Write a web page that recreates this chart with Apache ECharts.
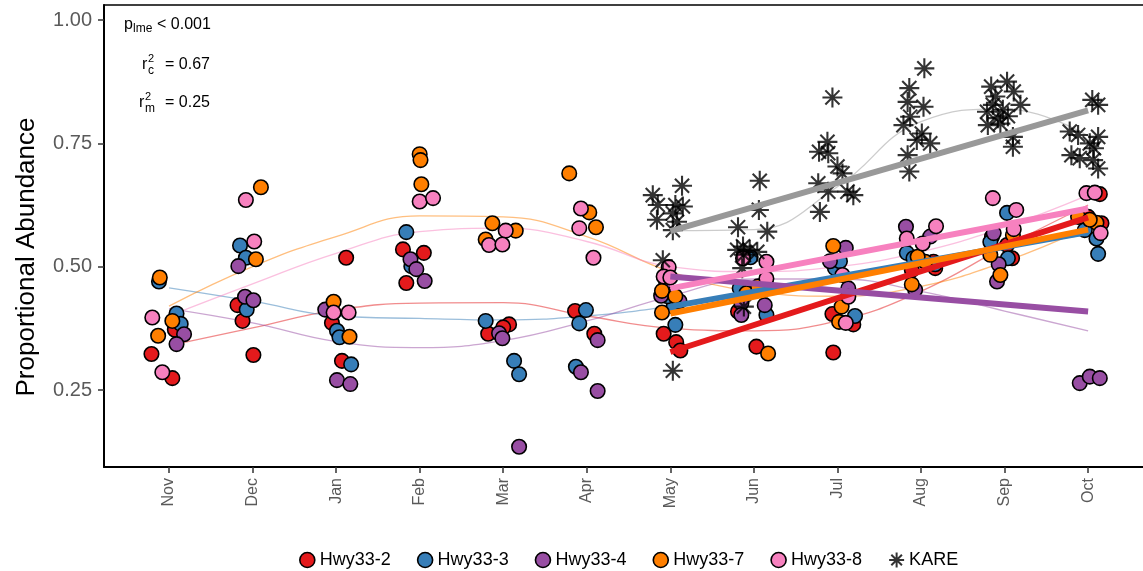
<!DOCTYPE html>
<html>
<head>
<meta charset="utf-8">
<script src="https://cdn.jsdelivr.net/npm/echarts@6/dist/echarts.min.js"></script>
<style>
html,body{margin:0;padding:0;background:#fff;}
#chart{width:1143px;height:571px;}
</style>
</head>
<body>
<div id="chart"></div>
<script>
// Month labels (x categories)
var months = ['Nov','Dec','Jan','Feb','Mar','Apr','May','Jun','Jul','Aug','Sep','Oct'];
var yTicks = [0.25, 0.50, 0.75, 1.00];

// Points: [x (month index incl. jitter), proportional abundance]
var hwy33_2 = [[0.07,0.372],[-0.21,0.323],[0.04,0.274],[0.82,0.422],[0.88,0.390],[1.01,0.321],
  [2.12,0.518],[1.95,0.386],[2.07,0.309],[2.80,0.535],[3.05,0.528],[2.84,0.467],
  [4.07,0.383],[4.00,0.377],[3.82,0.364],[4.86,0.410],[5.09,0.364],
  [5.92,0.364],[6.07,0.347],[6.12,0.330],[6.81,0.409],[7.03,0.338],
  [7.94,0.404],[8.19,0.383],[7.95,0.326],[9.17,0.497],[8.89,0.493],[9.15,0.510],
  [9.85,0.561],[10.03,0.544],[10.09,0.517],[11.14,0.647],[11.00,0.601],[11.16,0.588]];
var hwy33_3 = [[-0.12,0.470],[0.09,0.405],[0.14,0.384],[0.85,0.543],[0.92,0.518],[0.93,0.413],
  [2.01,0.370],[2.04,0.357],[2.18,0.302],[2.84,0.570],[2.90,0.501],
  [3.79,0.390],[4.13,0.309],[4.19,0.282],[4.99,0.412],[4.91,0.385],[4.87,0.297],
  [6.04,0.419],[6.06,0.382],[5.97,0.440],[6.96,0.519],[6.83,0.456],[7.15,0.402],
  [7.97,0.497],[8.03,0.511],[8.21,0.400],[8.83,0.528],[8.91,0.517],[9.17,0.505],
  [10.03,0.609],[10.04,0.517],[9.83,0.550],[10.96,0.574],[11.10,0.557],[11.12,0.526]];
var hwy33_4 = [[0.18,0.363],[0.09,0.343],[0.83,0.501],[0.91,0.439],[1.01,0.432],
  [1.87,0.413],[2.01,0.270],[2.17,0.262],[2.89,0.515],[2.96,0.495],[3.06,0.471],
  [3.95,0.365],[3.99,0.355],[4.19,0.135],[5.13,0.351],[4.93,0.286],[5.13,0.248],
  [5.89,0.441],[6.11,0.430],[5.95,0.470],[6.85,0.426],[7.13,0.422],[6.85,0.402],
  [8.10,0.538],[7.91,0.511],[8.13,0.456],[8.82,0.581],[9.11,0.561],[8.93,0.453],
  [9.87,0.568],[9.93,0.505],[9.91,0.470],[10.90,0.264],[11.02,0.277],[11.14,0.274]];
var hwy33_7 = [[-0.11,0.478],[0.04,0.390],[-0.13,0.360],[1.10,0.661],[1.04,0.515],
  [1.97,0.429],[2.16,0.358],[3.00,0.728],[3.01,0.716],[3.02,0.667],
  [3.87,0.588],[4.15,0.573],[3.79,0.555],[4.79,0.689],[5.03,0.610],[5.11,0.580],
  [5.90,0.451],[5.90,0.407],[6.06,0.440],[6.91,0.446],[7.17,0.324],[7.05,0.460],
  [7.95,0.542],[8.05,0.419],[8.02,0.388],[8.89,0.464],[9.05,0.510],[8.96,0.520],
  [10.10,0.564],[9.83,0.524],[9.95,0.483],[10.88,0.601],[11.10,0.589],[11.02,0.595]];
var hwy33_8 = [[-0.20,0.397],[-0.08,0.286],[0.92,0.635],[1.02,0.551],
  [1.97,0.407],[2.15,0.407],[3.00,0.632],[3.16,0.639],
  [4.03,0.573],[3.83,0.544],[3.99,0.545],[4.93,0.618],[4.91,0.578],[5.08,0.518],
  [5.98,0.499],[5.92,0.480],[6.00,0.478],[6.87,0.517],[7.15,0.510],[7.15,0.476],
  [8.06,0.483],[8.13,0.439],[8.10,0.386],[9.18,0.582],[8.83,0.557],[9.02,0.547],
  [9.86,0.639],[10.14,0.615],[10.11,0.576],[10.98,0.649],[11.08,0.650],[11.15,0.568]];
var kare = [[5.79,0.645],[6.14,0.664],[5.85,0.625],[6.03,0.608],[6.15,0.622],[5.84,0.595],[6.06,0.625],[6.08,0.591],[6.03,0.574],[5.91,0.513],[6.03,0.289],
  [7.07,0.674],[7.06,0.615],[6.81,0.580],[7.16,0.571],[6.87,0.541],[6.95,0.534],[6.80,0.534],[7.04,0.530],[6.88,0.524],[6.86,0.497],[6.88,0.419],
  [7.94,0.843],[7.88,0.753],[7.78,0.733],[7.89,0.730],[8.00,0.703],[8.06,0.689],[7.77,0.669],[7.89,0.652],[8.12,0.652],[8.19,0.645],[7.79,0.611],
  [9.04,0.902],[8.86,0.862],[8.84,0.834],[9.03,0.824],[8.87,0.804],[8.79,0.787],[9.01,0.770],[8.95,0.757],[9.11,0.750],[8.84,0.726],[8.86,0.693],
  [9.84,0.865],[10.03,0.875],[10.11,0.855],[10.19,0.828],[9.86,0.828],[9.98,0.818],[9.79,0.814],[9.92,0.801],[10.04,0.805],[9.80,0.787],[10.10,0.763],[10.10,0.743],[9.95,0.790],[9.89,0.845],
  [11.05,0.838],[11.12,0.828],[10.78,0.774],[10.88,0.767],[11.12,0.763],[11.02,0.750],[11.07,0.740],[10.80,0.726],[10.90,0.720],[11.06,0.716],[11.12,0.699]];

// Smoothed (loess) trend per month, Nov..Oct
var smooth2 = [0.340,0.376,0.412,0.426,0.427,0.400,0.375,0.370,0.390,0.450,0.540,0.625];
var smooth3 = [0.457,0.430,0.400,0.395,0.392,0.400,0.420,0.450,0.480,0.510,0.540,0.565];
var smooth4 = [0.415,0.386,0.348,0.336,0.350,0.390,0.440,0.475,0.475,0.450,0.410,0.370];
var smooth7 = [0.420,0.500,0.561,0.603,0.601,0.561,0.490,0.450,0.440,0.460,0.510,0.580];
var smooth8 = [0.400,0.465,0.527,0.571,0.578,0.551,0.500,0.490,0.500,0.530,0.580,0.645];
var smoothKARE = [0.573,0.575,0.662,0.794,0.820,0.765]; // May..Oct

// Linear fits May -> Oct: [value at May, value at Oct]
var fit2 = [0.327,0.600];
var fit3 = [0.419,0.570];
var fit4 = [0.480,0.409];
var fit7 = [0.405,0.575];
var fit8 = [0.456,0.618];
var fitKARE = [0.572,0.817];

var names = ['Hwy33-2','Hwy33-3','Hwy33-4','Hwy33-7','Hwy33-8','KARE'];
var colors = ['#E41A1C','#377EB8','#984EA3','#FF7F00','#F781BF'];
var pts = [hwy33_2,hwy33_3,hwy33_4,hwy33_7,hwy33_8];
var smooths = [smooth2,smooth3,smooth4,smooth7,smooth8];
var fits = [fit2,fit3,fit4,fit7,fit8];

var starPath = 'path://M10 0L10 20M0 10L20 10M2.93 2.93L17.07 17.07M17.07 2.93L2.93 17.07';
var FONT = 'Liberation Sans, Arial, sans-serif';

var series = [];
smooths.forEach(function(s,i){
  series.push({type:'line', name:'sm'+i, data:s.map(function(v,k){return [k,v];}),
    smooth:0.45, showSymbol:false, silent:true, z:1,
    lineStyle:{color:colors[i], width:1.3, opacity:0.5}});
});
series.push({type:'line', name:'smK', data:smoothKARE.map(function(v,k){return [k+6,v];}),
  smooth:0.45, showSymbol:false, silent:true, z:1,
  lineStyle:{color:'#aaaaaa', width:1.3, opacity:0.6}});
pts.forEach(function(p,i){
  series.push({type:'scatter', name:names[i], data:p, symbol:'circle', symbolSize:14.5, z:3,
    itemStyle:{color:colors[i], borderColor:'#000', borderWidth:1.6, opacity:1}});
});
series.push({type:'scatter', name:'KARE', data:kare, symbol:starPath, symbolSize:20, z:4,
  itemStyle:{color:'transparent', borderColor:'#000', borderWidth:2.1}});
series.push({type:'line', name:'fitK', data:[[6,fitKARE[0]],[11,fitKARE[1]]], showSymbol:false, silent:true, z:5,
  lineStyle:{color:'#999999', width:6}});
[0,1,2,3,4].forEach(function(i){
  series.push({type:'line', name:'fit'+i, data:[[6,fits[i][0]],[11,fits[i][1]]], showSymbol:false, silent:true, z:5,
    lineStyle:{color:colors[i], width:6}});
});

var legendData = names.map(function(n,i){
  if(i<5) return {name:n, icon:'circle', itemStyle:{color:colors[i], borderColor:'#000', borderWidth:1.6}};
  return {name:n, icon:starPath, itemStyle:{color:'transparent', borderColor:'#000', borderWidth:2}};
});

var chart = echarts.init(document.getElementById('chart'), null, {renderer:'canvas'});
chart.setOption({
  animation:false,
  backgroundColor:'#fff',
  grid:{left:104, right:0, top:5, bottom:104, containLabel:false},
  xAxis:[{
    type:'value', min:-0.778, max:11.657,
    axisLine:{show:true, onZero:false, lineStyle:{color:'#000', width:2}},
    axisTick:{show:true, customValues:[0,1,2,3,4,5,6,7,8,9,10,11], length:6, lineStyle:{color:'#333', width:1.5}},
    axisLabel:{show:true, customValues:[0,1,2,3,4,5,6,7,8,9,10,11], rotate:90, margin:11,
      color:'#5a5a5a', fontSize:16, fontFamily:FONT,
      formatter:function(v){return months[Math.round(v)];}},
    splitLine:{show:false}
  },{
    type:'value', position:'top', min:-0.778, max:11.657,
    axisLine:{show:true, onZero:false, lineStyle:{color:'#000', width:1.5}},
    axisTick:{show:false}, axisLabel:{show:false}, splitLine:{show:false}
  }],
  yAxis:{
    type:'value', min:0.0939, max:1.0304,
    axisLine:{show:true, onZero:false, lineStyle:{color:'#000', width:2}},
    axisTick:{show:true, customValues:yTicks, length:6, lineStyle:{color:'#333', width:1.5}},
    axisLabel:{show:true, customValues:yTicks, margin:12, color:'#5a5a5a', fontSize:20, fontFamily:FONT,
      formatter:function(v){return v.toFixed(2);}},
    splitLine:{show:false}
  },
  legend:{
    data:legendData, left:294, top:546, itemWidth:15, itemHeight:15, itemGap:26,
    textStyle:{fontSize:18, fontFamily:FONT, color:'#000'}
  },
  graphic:[
    {type:'text', rotation:Math.PI/2, position:[27,257],
      style:{text:'Proportional Abundance', font:'26px '+FONT, fill:'#000', textAlign:'center', textVerticalAlign:'middle'}},
    {type:'text', position:[124,25], style:{text:'p', font:'16px '+FONT, fill:'#000', textVerticalAlign:'middle'}},
    {type:'text', position:[133,29], style:{text:'lme', font:'12px '+FONT, fill:'#000', textVerticalAlign:'middle'}},
    {type:'text', position:[157,25], style:{text:'< 0.001', font:'16px '+FONT, fill:'#000', textVerticalAlign:'middle'}},
    {type:'text', position:[142,65], style:{text:'r', font:'16px '+FONT, fill:'#000', textVerticalAlign:'middle'}},
    {type:'text', position:[148,59], style:{text:'2', font:'11px '+FONT, fill:'#000', textVerticalAlign:'middle'}},
    {type:'text', position:[148,71], style:{text:'c', font:'12px '+FONT, fill:'#000', textVerticalAlign:'middle'}},
    {type:'text', position:[165,65], style:{text:'= 0.67', font:'16px '+FONT, fill:'#000', textVerticalAlign:'middle'}},
    {type:'text', position:[139,103], style:{text:'r', font:'16px '+FONT, fill:'#000', textVerticalAlign:'middle'}},
    {type:'text', position:[145,97], style:{text:'2', font:'11px '+FONT, fill:'#000', textVerticalAlign:'middle'}},
    {type:'text', position:[145,109], style:{text:'m', font:'12px '+FONT, fill:'#000', textVerticalAlign:'middle'}},
    {type:'text', position:[165,103], style:{text:'= 0.25', font:'16px '+FONT, fill:'#000', textVerticalAlign:'middle'}}
  ],
  series:series
});
</script>
</body>
</html>
